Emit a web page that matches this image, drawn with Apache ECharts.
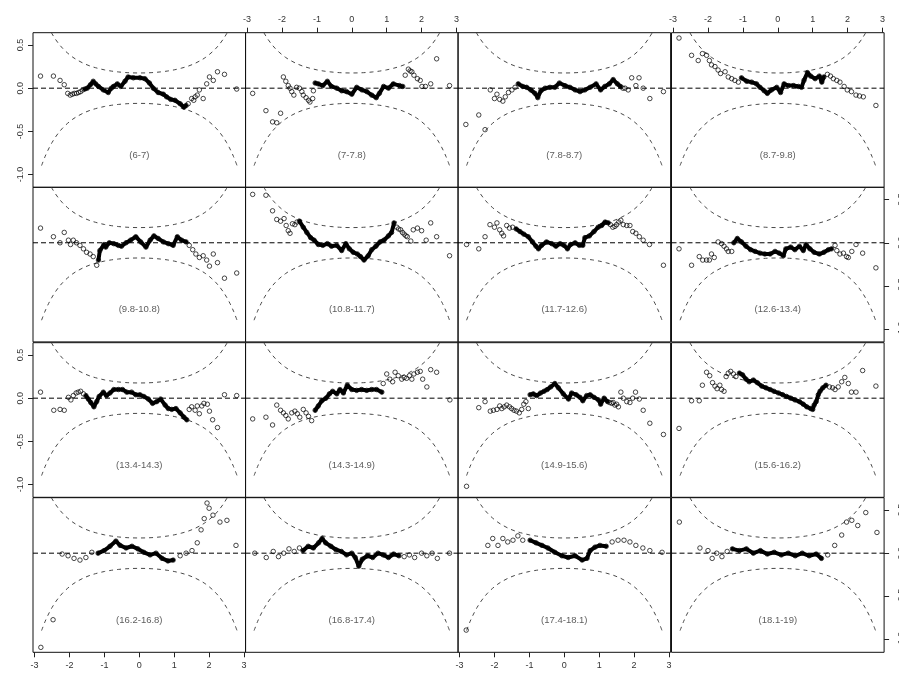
<!DOCTYPE html>
<html><head><meta charset="utf-8">
<script src="https://cdn.jsdelivr.net/npm/echarts@6/dist/echarts.min.js"></script>
<style>html,body{margin:0;padding:0;background:#fff}#c{width:899px;height:673px}</style>
</head><body><div id="c"></div>
<script>
const panelLabels = ['(6-7)','(7-7.8)','(7.8-8.7)','(8.7-9.8)','(9.8-10.8)','(10.8-11.7)','(11.7-12.6)','(12.6-13.4)','(13.4-14.3)','(14.3-14.9)','(14.9-15.6)','(15.6-16.2)','(16.2-16.8)','(16.8-17.4)','(17.4-18.1)','(18.1-19)'];
const xTicks = [-3,-2,-1,0,1,2,3];
const yTicks = [-1,-0.5,0,0.5];
const bandZ = [-2.8,-2.7,-2.6,-2.5,-2.4,-2.3,-2.2,-2.1,-2.0,-1.9,-1.8,-1.6,-1.4,-1.2,-1.0,-0.8,-0.6,-0.4,-0.2,0,0.2,0.4,0.6,0.8,1.0,1.2,1.4,1.6,1.8,1.9,2.0,2.1,2.2,2.3,2.4,2.5,2.6,2.7,2.8];
const bandUpper = [0.896,0.792,0.704,0.629,0.565,0.510,0.463,0.423,0.388,0.357,0.331,0.288,0.255,0.231,0.212,0.198,0.188,0.181,0.177,0.176,0.177,0.181,0.188,0.198,0.212,0.231,0.255,0.288,0.331,0.357,0.388,0.423,0.463,0.510,0.565,0.629,0.704,0.792,0.896];
const bandLower = [-0.896,-0.792,-0.704,-0.629,-0.565,-0.510,-0.463,-0.423,-0.388,-0.357,-0.331,-0.288,-0.255,-0.231,-0.212,-0.198,-0.188,-0.181,-0.177,-0.176,-0.177,-0.181,-0.188,-0.198,-0.212,-0.231,-0.255,-0.288,-0.331,-0.357,-0.388,-0.423,-0.463,-0.510,-0.565,-0.629,-0.704,-0.792,-0.896];

const tail1 = [[-2.83,0.14],[-2.46,0.14],[-2.27,0.09],[-2.15,0.04],[-2.05,-0.06],[-1.98,-0.08],[-1.92,-0.07],[-1.86,-0.06],[-1.80,-0.06],[-1.74,-0.05],[-1.68,-0.04],[-1.62,-0.02],[1.40,-0.18],[1.50,-0.12],[1.56,-0.14],[1.60,-0.10],[1.66,-0.08],[1.72,-0.02],[1.83,-0.12],[1.93,0.05],[2.01,0.13],[2.12,0.09],[2.24,0.19],[2.44,0.16],[2.79,-0.01]];
const worm1 = [[-1.56,-0.01],[-1.49,0.0],[-1.40,0.04],[-1.32,0.08],[-1.25,0.05],[-1.17,0.02],[-1.03,-0.02],[-0.89,-0.05],[-0.80,0.0],[-0.74,0.02],[-0.63,0.05],[-0.53,0.02],[-0.41,0.08],[-0.32,0.13],[-0.17,0.12],[0.02,0.12],[0.16,0.11],[0.29,0.06],[0.40,0.0],[0.54,-0.05],[0.69,-0.07],[0.78,-0.10],[0.90,-0.13],[1.02,-0.14],[1.17,-0.18],[1.28,-0.22],[1.34,-0.20]];
const tail2 = [[-2.84,-0.06],[-2.46,-0.26],[-2.27,-0.39],[-2.15,-0.40],[-2.04,-0.29],[-1.96,0.13],[-1.89,0.08],[-1.82,0.03],[-1.77,0.0],[-1.72,-0.04],[-1.66,-0.08],[-1.58,0.01],[-1.50,0.0],[-1.43,-0.04],[-1.39,-0.08],[-1.31,-0.11],[-1.24,-0.14],[-1.20,-0.16],[-1.12,-0.12],[-1.10,-0.03],[1.53,0.15],[1.62,0.22],[1.67,0.20],[1.72,0.19],[1.78,0.15],[1.88,0.11],[1.96,0.09],[2.01,0.02],[2.11,0.02],[2.26,0.05],[2.43,0.34],[2.80,0.03]];
const worm2 = [[-1.05,0.06],[-0.96,0.05],[-0.83,0.03],[-0.70,0.08],[-0.58,0.02],[-0.43,0.0],[-0.29,-0.03],[-0.15,-0.04],[0.0,-0.07],[0.14,0.01],[0.29,-0.02],[0.43,-0.04],[0.57,-0.08],[0.70,-0.11],[0.79,-0.06],[0.91,0.02],[1.05,0.0],[1.19,0.05],[1.37,0.03],[1.46,0.02]];
const tail3 = [[-2.82,-0.42],[-2.45,-0.31],[-2.27,-0.48],[-2.12,-0.02],[-2.0,-0.12],[-1.93,-0.07],[-1.85,-0.13],[-1.76,-0.15],[-1.69,-0.10],[-1.60,-0.05],[-1.50,-0.02],[-1.41,0.01],[1.68,0.0],[1.74,0.0],[1.83,-0.02],[1.93,0.12],[2.05,0.03],[2.14,0.12],[2.26,0.0],[2.45,-0.12],[2.84,-0.04]];
const worm3 = [[-1.32,0.05],[-1.19,0.02],[-1.08,0.01],[-0.96,-0.02],[-0.84,-0.06],[-0.76,-0.11],[-0.67,-0.03],[-0.55,0.0],[-0.41,0.01],[-0.27,0.01],[-0.14,0.06],[0.02,0.03],[0.16,0.01],[0.31,-0.02],[0.45,-0.04],[0.59,-0.02],[0.74,0.01],[0.91,0.05],[1.04,-0.02],[1.16,0.02],[1.29,0.05],[1.40,0.10],[1.52,0.05],[1.61,0.02]];
const tail4 = [[-2.83,0.58],[-2.47,0.38],[-2.28,0.32],[-2.16,0.40],[-2.04,0.38],[-1.96,0.32],[-1.90,0.27],[-1.80,0.25],[-1.71,0.21],[-1.64,0.17],[-1.51,0.19],[-1.42,0.13],[-1.32,0.11],[-1.23,0.09],[-1.13,0.07],[1.42,0.16],[1.51,0.14],[1.59,0.11],[1.69,0.09],[1.78,0.07],[1.90,0.02],[1.99,-0.02],[2.11,-0.04],[2.24,-0.08],[2.34,-0.09],[2.45,-0.10],[2.81,-0.20]];
const worm4 = [[-1.04,0.12],[-0.89,0.08],[-0.75,0.07],[-0.61,0.05],[-0.51,0.01],[-0.39,-0.03],[-0.30,-0.06],[-0.18,-0.02],[-0.03,0.01],[0.08,-0.05],[0.18,0.05],[0.30,0.03],[0.45,0.03],[0.59,0.02],[0.68,0.01],[0.75,0.09],[0.85,0.18],[0.94,0.14],[1.07,0.11],[1.19,0.14],[1.26,0.07],[1.32,0.13]];
const tail5 = [[-2.83,0.17],[-2.46,0.07],[-2.27,0.0],[-2.15,0.12],[-2.03,0.03],[-1.97,-0.02],[-1.89,0.03],[-1.80,0.0],[-1.70,-0.03],[-1.60,-0.07],[-1.51,-0.11],[-1.41,-0.13],[-1.32,-0.16],[-1.22,-0.26],[1.43,-0.03],[1.53,-0.08],[1.62,-0.13],[1.72,-0.17],[1.83,-0.15],[1.93,-0.20],[2.01,-0.27],[2.12,-0.13],[2.24,-0.23],[2.44,-0.41],[2.79,-0.35]];
const worm5 = [[-1.17,-0.20],[-1.13,-0.09],[-1.01,-0.02],[-0.96,-0.05],[-0.86,0.0],[-0.73,-0.01],[-0.60,-0.03],[-0.51,-0.04],[-0.38,0.0],[-0.25,0.03],[-0.10,0.07],[0.04,0.01],[0.19,-0.05],[0.31,0.03],[0.42,0.08],[0.54,0.05],[0.69,0.01],[0.83,-0.01],[0.97,-0.03],[1.09,0.07],[1.21,0.03],[1.34,0.01]];
const tail6 = [[-2.84,0.56],[-2.46,0.55],[-2.27,0.37],[-2.15,0.27],[-2.04,0.25],[-1.94,0.28],[-1.88,0.20],[-1.82,0.14],[-1.77,0.11],[-1.70,0.22],[-1.63,0.21],[-1.57,0.24],[1.29,0.18],[1.34,0.16],[1.40,0.15],[1.45,0.12],[1.50,0.10],[1.55,0.08],[1.59,0.07],[1.69,0.02],[1.76,0.15],[1.88,0.17],[2.00,0.14],[2.13,0.03],[2.26,0.23],[2.43,0.07],[2.80,-0.15]];
const worm6 = [[-1.50,0.25],[-1.39,0.18],[-1.29,0.12],[-1.18,0.06],[-1.08,0.03],[-0.96,-0.02],[-0.83,-0.03],[-0.70,-0.01],[-0.58,-0.04],[-0.43,-0.03],[-0.29,-0.09],[-0.17,-0.01],[-0.07,-0.07],[0.04,-0.11],[0.16,-0.13],[0.25,-0.16],[0.35,-0.20],[0.47,-0.15],[0.57,-0.08],[0.69,-0.04],[0.81,0.01],[0.92,0.03],[1.05,0.08],[1.14,0.12],[1.21,0.23]];
const tail7 = [[-2.80,-0.02],[-2.45,-0.07],[-2.27,0.07],[-2.13,0.21],[-2.0,0.18],[-1.93,0.23],[-1.85,0.15],[-1.79,0.11],[-1.74,0.08],[-1.65,0.20],[-1.57,0.17],[-1.48,0.18],[1.32,0.21],[1.39,0.18],[1.45,0.19],[1.50,0.21],[1.56,0.24],[1.62,0.26],[1.69,0.21],[1.79,0.20],[1.88,0.20],[1.96,0.13],[2.05,0.11],[2.15,0.07],[2.26,0.03],[2.44,-0.02],[2.84,-0.26]];
const worm7 = [[-1.38,0.16],[-1.27,0.13],[-1.16,0.10],[-1.03,0.07],[-0.91,0.01],[-0.81,-0.04],[-0.74,-0.07],[-0.65,-0.03],[-0.51,0.01],[-0.36,-0.01],[-0.24,-0.04],[-0.12,-0.01],[-0.01,-0.03],[0.09,-0.07],[0.18,-0.02],[0.31,0.0],[0.43,-0.03],[0.53,-0.03],[0.59,0.06],[0.72,0.08],[0.85,0.13],[0.97,0.18],[1.07,0.20],[1.17,0.24],[1.26,0.23]];
const tail8 = [[-2.83,-0.07],[-2.47,-0.26],[-2.25,-0.16],[-2.15,-0.20],[-2.04,-0.20],[-1.96,-0.20],[-1.90,-0.13],[-1.82,-0.17],[-1.71,0.01],[-1.61,-0.01],[-1.54,-0.04],[-1.47,-0.07],[-1.42,-0.10],[-1.32,-0.10],[1.64,-0.03],[1.69,-0.09],[1.78,-0.13],[1.88,-0.12],[1.97,-0.16],[2.02,-0.17],[2.12,-0.10],[2.24,-0.02],[2.43,-0.12],[2.81,-0.29]];
const worm8 = [[-1.26,0.0],[-1.16,0.05],[-1.04,0.01],[-0.91,-0.04],[-0.78,-0.08],[-0.65,-0.10],[-0.51,-0.12],[-0.37,-0.13],[-0.22,-0.13],[-0.08,-0.10],[0.04,-0.12],[0.16,-0.15],[0.23,-0.07],[0.37,-0.05],[0.49,-0.08],[0.62,-0.04],[0.73,-0.09],[0.81,-0.02],[0.92,-0.07],[1.04,-0.11],[1.19,-0.13],[1.32,-0.11],[1.45,-0.08],[1.54,-0.07]];
const tail9 = [[-2.83,0.07],[-2.45,-0.14],[-2.27,-0.13],[-2.15,-0.14],[-2.03,0.01],[-1.96,-0.02],[-1.89,0.03],[-1.81,0.06],[-1.75,0.07],[-1.68,0.08],[-1.60,0.05],[1.43,-0.13],[1.50,-0.10],[1.60,-0.14],[1.66,-0.09],[1.72,-0.18],[1.79,-0.09],[1.85,-0.06],[1.95,-0.07],[2.01,-0.15],[2.10,-0.25],[2.24,-0.34],[2.44,0.04],[2.79,0.03]];
const worm9 = [[-1.53,0.03],[-1.46,-0.01],[-1.39,-0.05],[-1.30,-0.10],[-1.22,-0.04],[-1.15,0.02],[-1.03,0.07],[-0.94,0.03],[-0.84,0.06],[-0.73,0.10],[-0.60,0.10],[-0.48,0.10],[-0.36,0.07],[-0.22,0.07],[-0.10,0.04],[0.02,0.04],[0.13,0.02],[0.26,-0.01],[0.38,-0.06],[0.50,-0.04],[0.61,-0.01],[0.74,-0.08],[0.83,-0.12],[0.93,-0.13],[1.05,-0.12],[1.17,-0.17],[1.28,-0.22],[1.36,-0.25]];
const tail10 = [[-2.84,-0.24],[-2.46,-0.22],[-2.27,-0.31],[-2.15,-0.08],[-2.04,-0.14],[-1.96,-0.17],[-1.89,-0.20],[-1.82,-0.24],[-1.72,-0.17],[-1.63,-0.15],[-1.56,-0.18],[-1.49,-0.22],[-1.39,-0.13],[-1.31,-0.17],[-1.24,-0.21],[-1.15,-0.26],[0.90,0.17],[1.0,0.28],[1.09,0.22],[1.17,0.19],[1.24,0.30],[1.33,0.26],[1.43,0.22],[1.50,0.24],[1.57,0.23],[1.65,0.26],[1.72,0.22],[1.78,0.28],[1.88,0.30],[1.96,0.31],[2.03,0.22],[2.15,0.13],[2.26,0.33],[2.43,0.30],[2.81,-0.02]];
const worm10 = [[-1.05,-0.14],[-0.96,-0.09],[-0.86,-0.03],[-0.74,0.0],[-0.64,0.05],[-0.55,0.08],[-0.43,0.05],[-0.34,0.10],[-0.24,0.06],[-0.13,0.15],[0.0,0.10],[0.14,0.09],[0.28,0.10],[0.43,0.09],[0.57,0.10],[0.71,0.10],[0.86,0.07]];
const tail11 = [[-2.80,-1.02],[-2.45,-0.11],[-2.27,-0.04],[-2.12,-0.15],[-2.03,-0.14],[-1.93,-0.13],[-1.85,-0.09],[-1.79,-0.12],[-1.72,-0.10],[-1.65,-0.08],[-1.57,-0.10],[-1.51,-0.12],[-1.44,-0.14],[-1.37,-0.15],[-1.29,-0.17],[-1.22,-0.13],[-1.16,-0.07],[-1.10,-0.04],[-1.03,-0.12],[1.30,-0.05],[1.36,-0.06],[1.40,-0.05],[1.45,-0.08],[1.50,-0.07],[1.55,-0.10],[1.62,0.07],[1.69,0.0],[1.79,-0.04],[1.88,-0.05],[1.96,0.0],[2.04,0.07],[2.15,-0.01],[2.26,-0.14],[2.45,-0.29],[2.84,-0.42]];
const worm11 = [[-0.98,0.04],[-0.89,0.05],[-0.79,0.03],[-0.68,0.06],[-0.58,0.08],[-0.49,0.10],[-0.39,0.13],[-0.27,0.17],[-0.17,0.12],[-0.03,0.05],[0.12,-0.01],[0.21,0.06],[0.34,0.04],[0.45,0.01],[0.53,-0.03],[0.64,0.03],[0.74,0.04],[0.85,0.01],[0.98,-0.02],[1.04,-0.07],[1.14,0.0],[1.24,-0.04]];
const tail12 = [[-2.83,-0.35],[-2.47,-0.03],[-2.25,-0.03],[-2.16,0.15],[-2.04,0.30],[-1.95,0.26],[-1.87,0.18],[-1.80,0.14],[-1.74,0.11],[-1.66,0.15],[-1.61,0.10],[-1.54,0.08],[-1.48,0.25],[-1.42,0.29],[-1.35,0.31],[-1.27,0.28],[-1.20,0.25],[1.48,0.13],[1.57,0.12],[1.64,0.10],[1.73,0.13],[1.83,0.19],[1.92,0.24],[2.02,0.17],[2.11,0.07],[2.24,0.07],[2.43,0.32],[2.81,0.14]];
const worm12 = [[-1.10,0.29],[-1.01,0.27],[-0.91,0.22],[-0.82,0.19],[-0.70,0.21],[-0.59,0.18],[-0.46,0.14],[-0.34,0.12],[-0.22,0.10],[-0.11,0.08],[0.02,0.06],[0.14,0.04],[0.25,0.02],[0.37,0.0],[0.49,-0.02],[0.62,-0.04],[0.73,-0.07],[0.83,-0.10],[0.94,-0.12],[1.0,-0.13],[1.04,-0.08],[1.10,-0.04],[1.16,0.04],[1.21,0.08],[1.29,0.12],[1.38,0.15]];
const tail13 = [[-2.82,-1.09],[-2.47,-0.77],[-2.21,-0.01],[-2.04,-0.03],[-1.87,-0.06],[-1.70,-0.08],[-1.53,-0.05],[-1.36,0.01],[1.17,-0.03],[1.34,0.0],[1.51,0.03],[1.66,0.12],[1.77,0.27],[1.86,0.40],[1.94,0.58],[2.0,0.52],[2.11,0.44],[2.31,0.36],[2.51,0.38],[2.77,0.09]];
const worm13 = [[-1.18,0.0],[-1.01,0.03],[-0.84,0.08],[-0.67,0.14],[-0.55,0.09],[-0.38,0.06],[-0.21,0.08],[-0.04,0.05],[0.13,0.01],[0.31,-0.02],[0.48,0.0],[0.65,-0.06],[0.82,-0.09],[0.97,-0.08]];
const tail14 = [[-2.78,0.0],[-2.45,-0.05],[-2.25,0.02],[-2.10,-0.04],[-1.95,0.0],[-1.80,0.05],[-1.65,0.02],[-1.50,0.06],[1.50,-0.04],[1.65,-0.02],[1.80,-0.05],[2.0,0.0],[2.15,-0.03],[2.30,0.0],[2.45,-0.06],[2.80,0.0]];
const worm14 = [[-1.40,0.03],[-1.25,0.08],[-1.10,0.06],[-0.95,0.12],[-0.85,0.17],[-0.75,0.12],[-0.60,0.08],[-0.45,0.04],[-0.30,0.02],[-0.15,-0.02],[0.0,0.0],[0.10,-0.05],[0.20,-0.15],[0.30,-0.07],[0.45,-0.03],[0.60,-0.05],[0.75,0.0],[0.90,-0.02],[1.05,-0.05],[1.20,-0.01],[1.35,-0.03]];
const tail15 = [[-2.81,-0.89],[-2.19,0.09],[-2.05,0.17],[-1.90,0.09],[-1.76,0.17],[-1.62,0.13],[-1.47,0.15],[-1.33,0.20],[-1.19,0.15],[1.37,0.13],[1.54,0.15],[1.71,0.15],[1.88,0.13],[2.05,0.09],[2.25,0.06],[2.45,0.03],[2.80,0.01]];
const worm15 = [[-0.98,0.15],[-0.81,0.12],[-0.64,0.09],[-0.47,0.06],[-0.27,0.01],[-0.07,-0.03],[0.11,-0.05],[0.31,-0.03],[0.51,-0.08],[0.65,-0.06],[0.74,0.03],[0.88,0.07],[1.02,0.09],[1.20,0.08]];
const tail16 = [[-2.82,0.36],[-2.23,0.06],[-2.0,0.03],[-1.88,-0.06],[-1.75,0.0],[-1.60,-0.04],[-1.45,0.02],[1.43,-0.02],[1.63,0.09],[1.83,0.21],[1.97,0.36],[2.12,0.38],[2.29,0.32],[2.52,0.47],[2.84,0.24]];
const worm16 = [[-1.30,0.05],[-1.10,0.03],[-0.90,0.05],[-0.70,0.0],[-0.50,0.03],[-0.30,-0.01],[-0.10,0.01],[0.10,-0.02],[0.30,0.0],[0.50,-0.03],[0.70,0.0],[0.90,-0.03],[1.10,-0.01],[1.25,-0.06]];

const tails = [tail1,tail2,tail3,tail4,tail5,tail6,tail7,tail8,tail9,tail10,tail11,tail12,tail13,tail14,tail15,tail16];
const worms = [worm1,worm2,worm3,worm4,worm5,worm6,worm7,worm8,worm9,worm10,worm11,worm12,worm13,worm14,worm15,worm16];

const colLeft = [33, 245.5, 458, 671.5];
const rowTop = [32.7, 187.3, 342.7, 497.7];
const W = 212.6, H = 154.6;
const XMIN = -3.045, XMAX = 3.045, YMIN = -1.147, YMAX = 0.642;
const FONT = 'Liberation Sans, Arial, sans-serif';

const grid = [], xAxis = [], yAxis = [], series = [];
for (let i = 0; i < 16; i++) {
  const r = Math.floor(i / 4), c = i % 4;
  grid.push({left: colLeft[c], top: rowTop[r], width: W, height: H, show: true,
    outerBoundsMode: 'none', containLabel: false,
    borderColor: '#111', borderWidth: 1, backgroundColor: 'transparent'});
  const showX = (r === 0 && c % 2 === 1) || (r === 3 && c % 2 === 0);
  xAxis.push({gridIndex: i, type: 'value', min: XMIN, max: XMAX, show: showX,
    position: r === 0 ? 'top' : 'bottom',
    axisLine: {show: false, onZero: false}, splitLine: {show: false},
    axisTick: {show: true, length: 5, customValues: xTicks, lineStyle: {color: '#222', width: 1}},
    axisLabel: {customValues: xTicks, fontSize: 9, color: '#333', fontFamily: FONT, margin: 9}});
  const showY = (c === 0 && (r === 0 || r === 2)) || (c === 3 && (r === 1 || r === 3));
  yAxis.push({gridIndex: i, type: 'value', min: YMIN, max: YMAX, show: showY,
    position: c === 0 ? 'left' : 'right',
    axisLine: {show: false, onZero: false}, splitLine: {show: false},
    axisTick: {show: true, length: 5, customValues: yTicks, lineStyle: {color: '#222', width: 1}},
    axisLabel: {customValues: yTicks, rotate: 90, fontSize: 9, color: '#333', fontFamily: FONT,
      margin: c === 0 ? 8 : 13, formatter: v => v.toFixed(1)}});
  const ax = {xAxisIndex: i, yAxisIndex: i};
  series.push(Object.assign({type: 'line', data: [[XMIN, 0], [XMAX, 0]], symbol: 'none', silent: true,
    lineStyle: {color: '#000', width: 1, type: [5, 3]}, z: 1}, ax));
  series.push(Object.assign({type: 'line', data: bandZ.map((z, k) => [z, bandUpper[k]]), symbol: 'none', silent: true, smooth: 0.3,
    lineStyle: {color: '#333', width: 0.9, type: [4, 4]}, z: 1}, ax));
  series.push(Object.assign({type: 'line', data: bandZ.map((z, k) => [z, bandLower[k]]), symbol: 'none', silent: true, smooth: 0.3,
    lineStyle: {color: '#333', width: 0.9, type: [4, 4]}, z: 1}, ax));
  series.push(Object.assign({type: 'line', data: worms[i], symbol: 'none', silent: true,
    lineStyle: {color: '#000', width: 4, join: 'round', cap: 'round'}, z: 2}, ax));
  series.push(Object.assign({type: 'scatter', data: tails[i].concat(worms[i]), symbol: 'circle', symbolSize: 4.5, silent: true,
    itemStyle: {color: 'rgba(0,0,0,0)', borderColor: '#000', borderWidth: 0.9}, z: 3}, ax));
  series.push(Object.assign({type: 'scatter', data: [[0, -0.775]], symbolSize: 0, silent: true,
    label: {show: true, position: 'inside', formatter: panelLabels[i], fontSize: 9.5, color: '#333', fontFamily: FONT}, z: 4}, ax));
}

const chart = echarts.init(document.getElementById('c'), null, {renderer: 'canvas'});
chart.setOption({animation: false, backgroundColor: '#fff', grid, xAxis, yAxis, series});
</script>
</body></html>
